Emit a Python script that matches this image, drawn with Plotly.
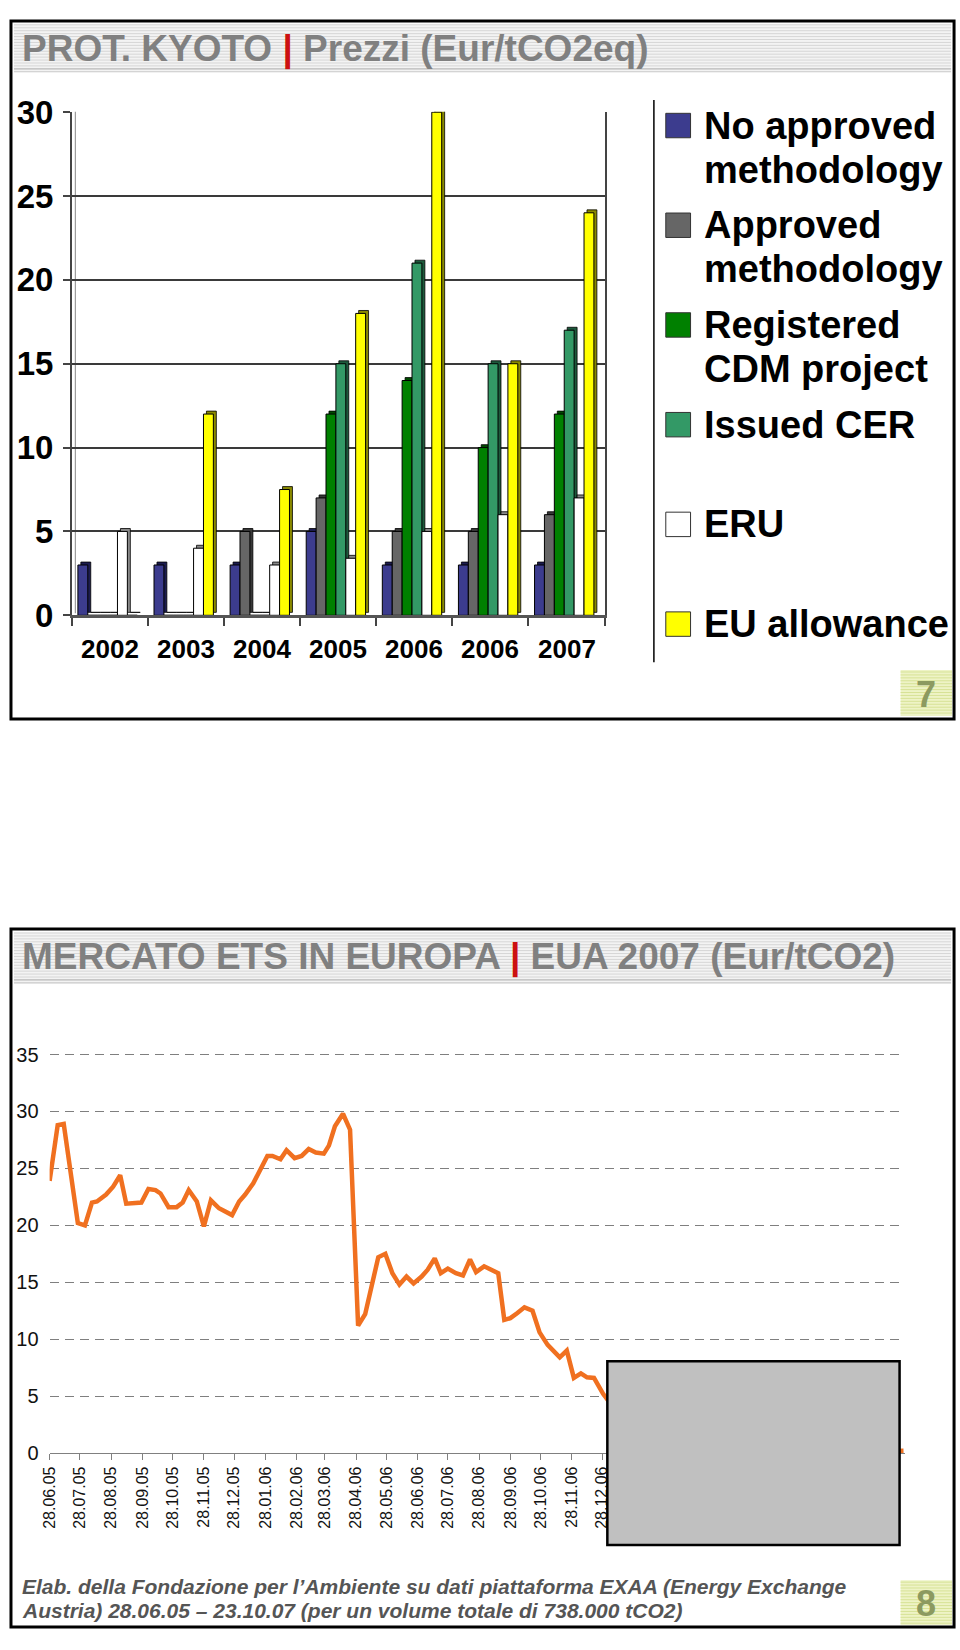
import plotly.graph_objects as go
import pandas as pd

# ---------------- data: top chart (prices by credit type) ----------------
years = ["2002", "2003", "2004", "2005", "2006", "2006", "2007"]
series_names = ["No approved<br>methodology", "Approved<br>methodology",
                "Registered<br>CDM project", "Issued CER", "ERU", "EU allowance"]
no_approved = [3, 3, 3, 5, 3, 3, 3]
approved = [0, 0, 5, 7, 5, 5, 6]
registered = [0, 0, 0, 12, 14, 10, 12]
issued_cer = [0, 0, 0, 15, 21, 15, 17]
eru = [5, 4, 3, 3.4, 5, 6, 7]
eu_allowance = [0, 12, 7.5, 18, 30, 15, 24]
top_ticks = [0, 5, 10, 15, 20, 25, 30]

# ---------------- data: bottom chart (EUA 2007 price) ----------------
eua_dates = ["2005-06-28", "2005-07-06", "2005-07-12", "2005-07-26", "2005-08-02", "2005-08-09",
             "2005-08-14", "2005-08-23", "2005-08-30", "2005-09-06", "2005-09-12", "2005-09-20",
             "2005-09-27", "2005-10-04", "2005-10-11", "2005-10-16", "2005-10-24", "2005-11-01",
             "2005-11-07", "2005-11-13", "2005-11-21", "2005-11-28", "2005-12-05", "2005-12-13",
             "2005-12-19", "2005-12-26", "2006-01-02", "2006-01-08", "2006-01-16", "2006-01-23",
             "2006-01-30", "2006-02-04", "2006-02-12", "2006-02-18", "2006-02-26", "2006-03-05",
             "2006-03-12", "2006-03-19", "2006-03-27", "2006-04-01", "2006-04-07", "2006-04-15",
             "2006-04-22", "2006-04-30", "2006-05-07", "2006-05-20", "2006-05-27", "2006-06-03",
             "2006-06-10", "2006-06-17", "2006-06-24", "2006-07-02", "2006-07-08", "2006-07-15",
             "2006-07-21", "2006-07-28", "2006-08-05", "2006-08-12", "2006-08-19", "2006-08-25",
             "2006-09-02", "2006-09-09", "2006-09-16", "2006-09-22", "2006-09-28", "2006-10-05",
             "2006-10-12", "2006-10-20", "2006-10-27", "2006-11-04", "2006-11-11", "2006-11-16",
             "2006-11-23", "2006-11-30", "2006-12-07", "2006-12-13", "2006-12-20", "2006-12-29",
             "2007-01-10", "2007-01-25", "2007-02-15", "2007-03-15", "2007-04-15", "2007-05-15",
             "2007-06-15", "2007-07-15", "2007-08-15", "2007-09-15", "2007-10-23"]
eua_prices = [23.9, 28.8, 28.9, 20.2, 20.0, 22.0,
              22.1, 22.7, 23.4, 24.4, 21.9, 22.0,
              22.0, 23.2, 23.1, 22.8, 21.6, 21.6,
              22.0, 23.1, 22.1, 19.9, 22.2, 21.5,
              21.2, 20.9, 22.1, 22.7, 23.7, 24.9,
              26.1, 26.1, 25.8, 26.6, 25.9, 26.1,
              26.7, 26.4, 26.3, 27.0, 28.7, 29.8,
              28.4, 11.2, 12.2, 17.2, 17.5, 15.8,
              14.8, 15.5, 14.9, 15.5, 16.1, 17.1,
              15.8, 16.2, 15.8, 15.6, 17.0, 15.9,
              16.4, 16.1, 15.8, 11.7, 11.85, 12.3,
              12.8, 12.5, 10.6, 9.5, 8.85, 8.4,
              9.0, 6.6, 7.0, 6.65, 6.6, 5.2,
              3.8, 2.5, 1.4, 1.1, 0.7, 0.4,
              0.25, 0.15, 0.1, 0.1, 0.2]
month_labels = ["28.06.05", "28.07.05", "28.08.05", "28.09.05", "28.10.05", "28.11.05", "28.12.05",
                "28.01.06", "28.02.06", "28.03.06", "28.04.06", "28.05.06", "28.06.06", "28.07.06",
                "28.08.06", "28.09.06", "28.10.06", "28.11.06", "28.12.06", "28.01.07", "28.02.07",
                "28.03.07", "28.04.07", "28.05.07", "28.06.07", "28.07.07", "28.08.07", "28.09.07"]
bottom_ticks = [0, 5, 10, 15, 20, 25, 30, 35]

# ---------------- styling ----------------
W, H = 960, 1650
FONT = "Liberation Sans, Arial, sans-serif"
NARROW = "Liberation Sans Narrow, Liberation Sans, Arial, sans-serif"
front_colors = ["#3c3c8e", "#666666", "#008000", "#339966", "#ffffff", "#ffff00"]
side_colors = ["#1c1c50", "#383838", "#004a00", "#1d5a3c", "#8a8a8a", "#8a8a00"]


def px(x):
    return x / W


def py(y):
    return 1 - y / H


fig = go.Figure()

all_series = [no_approved, approved, registered, issued_cer, eru, eu_allowance]
x_idx = list(range(len(years)))
BW = 0.13
for i, vals in enumerate(all_series):
    off = -0.42 + i * BW
    fig.add_trace(go.Bar(x=x_idx, y=vals, base=0.175, offset=off + 0.039, width=BW,
                         marker=dict(color=side_colors[i], line=dict(color="#000", width=0.8)),
                         xaxis="x", yaxis="y", showlegend=False, hoverinfo="skip"))
    fig.add_trace(go.Bar(x=x_idx, y=vals, offset=off, width=BW,
                         name=series_names[i].replace("<br>", " "),
                         marker=dict(color=front_colors[i], line=dict(color="#000", width=1)),
                         xaxis="x", yaxis="y", showlegend=False))

fig.add_trace(go.Scatter(x=eua_dates, y=eua_prices, mode="lines",
                         line=dict(color="#F07020", width=4.5), xaxis="x2", yaxis="y2",
                         showlegend=False, cliponaxis=False))

tick_dates = pd.to_datetime(month_labels, format="%d.%m.%y")

fig.update_layout(
    width=W, height=H, margin=dict(l=0, r=0, t=0, b=0),
    paper_bgcolor="white", plot_bgcolor="white", barmode="overlay",
    showlegend=False,
    xaxis=dict(domain=[px(63.4), px(601.2)], range=[-0.5, 6.5],
               tickvals=[k - 0.5 for k in range(len(years) + 1)],
               ticktext=[""] * (len(years) + 1), ticks="outside", ticklen=8,
               tickcolor="#444", tickwidth=1.5,
               showline=True, linecolor="#555", linewidth=2.5, showgrid=False,
               zeroline=False, anchor="y", fixedrange=True),
    yaxis=dict(domain=[py(611), py(96)], range=[0, 30.02], tickvals=top_ticks,
               ticks="outside", ticklen=7, tickcolor="#444", tickwidth=1.5,
               showline=True, linecolor="#444", linewidth=1.5, mirror=True,
               showgrid=True, gridcolor="#3a3a3a", gridwidth=1.5, zeroline=False,
               tickfont=dict(family=FONT, size=33, color="#000", weight="bold"),
               ticklabelstandoff=3, anchor="x", fixedrange=True),
    xaxis2=dict(type="date", domain=[px(41), px(904)], range=["2005-06-28", "2007-10-24"],
                tickvals=tick_dates, ticktext=month_labels, tickangle=-90,
                ticks="outside", ticklen=6, tickcolor="#808080", showline=True,
                linecolor="#808080", linewidth=1.2, showgrid=False, zeroline=False,
                tickfont=dict(family=FONT, size=16, color="#111"), anchor="y2", fixedrange=True),
    yaxis2=dict(domain=[py(1468), py(1058)], range=[0, 35.2], tickvals=bottom_ticks,
                showgrid=True, gridcolor="#7f7f7f", griddash="9px,6px", gridwidth=1.4,
                showline=False, ticks="", zeroline=False,
                tickfont=dict(family=FONT, size=20, color="#111"),
                ticklabelstandoff=10, anchor="x2", fixedrange=True),
)

shapes = []


def rect(x0, y0, x1, y1, fill=None, line_color=None, lw=0, layer="above"):
    shapes.append(dict(type="rect", xref="paper", yref="paper",
                       x0=px(x0), x1=px(x1), y0=py(y1), y1=py(y0),
                       fillcolor=fill if fill else "rgba(0,0,0,0)",
                       line=dict(color=line_color if line_color else "rgba(0,0,0,0)", width=lw),
                       layer=layer))


def hline(x0, x1, y, color, lw=1, layer="above"):
    shapes.append(dict(type="line", xref="paper", yref="paper",
                       x0=px(x0), x1=px(x1), y0=py(y), y1=py(y),
                       line=dict(color=color, width=lw), layer=layer))


def vline(x, y0, y1, color, lw=1, layer="above"):
    shapes.append(dict(type="line", xref="paper", yref="paper",
                       x0=px(x), x1=px(x), y0=py(y0), y1=py(y1),
                       line=dict(color=color, width=lw), layer=layer))


def band(x0, x1, y0, y1):
    rect(x0, y0, x1, y1, fill="#f3f3f3", layer="below")
    y = y0 + 1
    while y < y1 - 3:
        hline(x0, x1, y, "#d6d6d6", 1, layer="below")
        y += 3
    hline(x0, x1, y1 - 3, "#b8b8b8", 1.2, layer="below")
    hline(x0, x1, y1, "#c8c8c8", 1.2, layer="below")


def badge(x0, y0, x1, y1):
    rect(x0, y0, x1, y1, fill="#eef3c6", layer="below")
    y = y0 + 2
    while y < y1:
        hline(x0, x1, y, "#d7e296", 1, layer="below")
        y += 3


# panel frames
rect(2, 3, 954, 717, line_color="#000", lw=3)
rect(2, 932, 954, 1646, line_color="#000", lw=3)

# title bands
band(5, 951, 6, 55)
band(5, 951, 935, 987)

# badges
badge(900, 667, 952, 714)
badge(900, 1598, 952, 1644)

# left wall inner line (3D look) of top chart
vline(67, 96, 609, "#9a9a9a", 1.2, layer="below")

# legend separator
vline(651, 84, 659, "#000", 1.5)

# legend squares
leg_y = [110, 212, 314, 416, 518, 620]
for i, c in enumerate(front_colors):
    rect(663, leg_y[i] - 12.5, 688, leg_y[i] + 12.5, fill=c, line_color="#333", lw=1)

# grey cover box on bottom chart
rect(604, 1374, 899, 1562, fill="#c0c0c0", line_color="#000", lw=2.5)

fig.update_layout(shapes=shapes)

ann = []
ann.append(dict(xref="paper", yref="paper", x=px(11), y=py(32), xanchor="left", yanchor="middle",
                text="PROT. KYOTO <span style='color:#cc1111'>|</span> Prezzi (Eur/tCO2eq)",
                showarrow=False, font=dict(family=FONT, size=37, color="#808080", weight="bold")))
ann.append(dict(xref="paper", yref="paper", x=px(11), y=py(961), xanchor="left", yanchor="middle",
                text="MERCATO ETS IN EUROPA <span style='color:#cc1111'>|</span> EUA 2007 (Eur/tCO2)",
                showarrow=False, font=dict(family=FONT, size=37, color="#808080", weight="bold")))

for k, yr in enumerate(years):
    ann.append(dict(xref="x", yref="paper", x=k, y=py(645), xanchor="center", yanchor="middle",
                    text=yr, showarrow=False,
                    font=dict(family=FONT, size=26, color="#000", weight="bold")))

for i, name in enumerate(series_names):
    for j, part in enumerate(name.split("<br>")):
        ann.append(dict(xref="paper", yref="paper", x=px(700), y=py(leg_y[i] + j * 45),
                        xanchor="left", yanchor="middle", text=part, showarrow=False,
                        font=dict(family=FONT, size=38, color="#000", weight="bold")))

ann.append(dict(xref="paper", yref="paper", x=px(926), y=py(692), xanchor="center", yanchor="middle",
                text="7", showarrow=False, font=dict(family=NARROW, size=36, color="#8c9a60", weight="bold")))
ann.append(dict(xref="paper", yref="paper", x=px(926), y=py(1622), xanchor="center", yanchor="middle",
                text="8", showarrow=False, font=dict(family=NARROW, size=36, color="#8c9a60", weight="bold")))

footer = ["Elab. della Fondazione per l’Ambiente su dati piattaforma EXAA (Energy Exchange",
          "Austria) 28.06.05 – 23.10.07 (per un volume totale di 738.000 tCO2)"]
for j, line in enumerate(footer):
    ann.append(dict(xref="paper", yref="paper", x=px(11), y=py(1604 + j * 25), xanchor="left",
                    yanchor="middle", text=line, showarrow=False,
                    font=dict(family=FONT, size=21, color="#555555", weight="bold", style="italic")))

fig.update_layout(annotations=ann)

page_fix = (
    "document.documentElement.style.margin='0';document.documentElement.style.padding='0';"
    "document.documentElement.style.overflow='hidden';"
    "document.body.style.margin='0';document.body.style.padding='0';"
    "document.body.style.overflow='hidden';"
    "var gd=document.getElementById('{plot_id}');"
    "gd.style.position='fixed';gd.style.left='0px';gd.style.top='0px';"
)
fig.write_html("out.html", config={"displayModeBar": False}, post_script=page_fix)
